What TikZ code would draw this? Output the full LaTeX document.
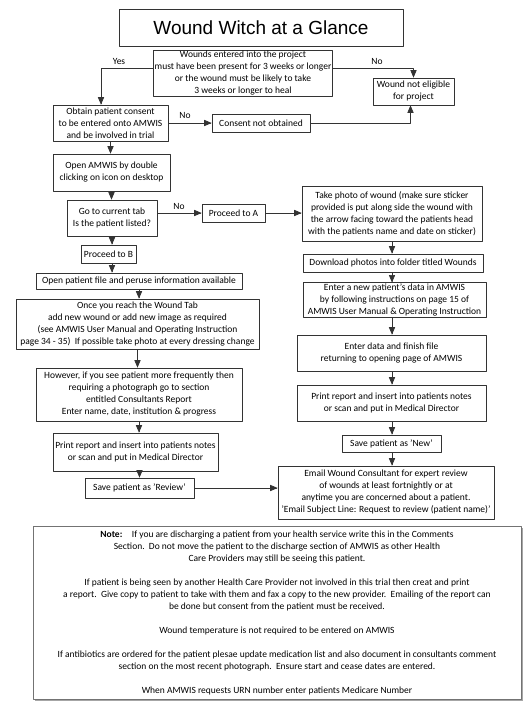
\documentclass[tikz,border=0pt]{standalone}
\usepackage{fontspec}
\setmainfont{Carlito}
\newfontfamily\titlefont{Liberation Sans}
\usetikzlibrary{arrows,shadows}

\tikzset{
  box/.style={draw=black!80, line width=0.7pt, align=center, inner sep=1pt,
    font=\fontsize{9.5}{12}\selectfont},
  lbl/.style={inner sep=0pt, font=\fontsize{9.5}{12}\selectfont},
  link/.style={draw=black!80, line width=0.7pt, ->}
}

\begin{document}
\begin{tikzpicture}[line cap=round,line join=round,>=triangle 45,x=1pt,y=-1pt]
\useasboundingbox (0,0) rectangle (531,709);
\node[box, minimum width=284pt, minimum height=37pt, font=\titlefont\fontsize{19}{21}\selectfont] (title) at (261,27.5) {Wound Witch at a Glance};
\node[box, minimum width=178pt, minimum height=46pt] (elig) at (243,73) {Wounds entered into the project\\must have been present for 3 weeks or longer\\or the wound must be likely to take\\3 weeks or longer to heal};
\node[box, minimum width=81pt, minimum height=27pt] (noelig) at (413.5,91.5) {Wound not eligible\\for project};
\node[box, minimum width=115pt, minimum height=36pt] (consent) at (110.5,123) {Obtain patient consent\\to be entered onto AMWIS\\and be involved in trial};
\node[box, minimum width=98pt, minimum height=18pt] (noconsent) at (261,123) {Consent not obtained};
\node[box, minimum width=117pt, minimum height=37pt] (open) at (111.5,172.5) {Open AMWIS by double\\clicking on icon on desktop};
\node[box, minimum width=90pt, minimum height=36pt] (listed) at (112,218) {Go to current tab\\Is the patient listed?};
\node[box, minimum width=63pt, minimum height=18pt] (procA) at (233.5,213) {Proceed to A};
\node[box, minimum width=55pt, minimum height=18pt] (procB) at (108.5,254) {Proceed to B};
\node[box, minimum width=206pt, minimum height=16pt] (file) at (139,281) {Open patient file and peruse information available};
\node[box, minimum width=243pt, minimum height=50pt] (tab) at (137.5,324) {Once you reach the Wound Tab\\add new wound or add new image as required\\(see AMWIS User Manual and Operating Instruction\\page 34 - 35)\ \ If possible take photo at every dressing change};
\node[box, minimum width=206pt, minimum height=53pt] (however) at (139,394.5) {However, if you see patient more frequently then\\requiring a photograph go to section\\entitled Consultants Report\\Enter name, date, institution \& progress};
\node[box, minimum width=165pt, minimum height=38pt] (printL) at (135.5,452) {Print report and insert into patients notes\\or scan and put in Medical Director};
\node[box, minimum width=109pt, minimum height=20pt] (review) at (139.5,488) {Save patient as 'Review'};
\node[box, minimum width=180pt, minimum height=55pt] (photo) at (392,213.5) {Take photo of wound (make sure sticker\\provided is put along side the wound with\\the arrow facing toward the patients head\\with the patients name and date on sticker)};
\node[box, minimum width=180pt, minimum height=18pt] (download) at (393,263) {Download photos into folder titled Wounds};
\node[box, minimum width=183pt, minimum height=30pt] (newpat) at (394.5,300) {Enter a new patient's data in AMWIS\\by following instructions on page 15 of\\AMWIS User Manual \& Operating Instruction};
\node[box, minimum width=189pt, minimum height=36pt] (enterdata) at (391.5,353) {Enter data and finish file\\returning to opening page of AMWIS};
\node[box, minimum width=189pt, minimum height=36pt] (printR) at (391.5,403) {Print report and insert into patients notes\\or scan and put in Medical Director};
\node[box, minimum width=99pt, minimum height=17pt] (new) at (391.5,443.5) {Save patient as 'New'};
\node[box, minimum width=216pt, minimum height=53pt] (email) at (386,492.5) {Email Wound Consultant for expert review\\of wounds at least fortnightly or at\\anytime you are concerned about a patient.\\'Email Subject Line: Request to review (patient name)'};
\node[box, draw=black!55, fill=white, minimum width=488pt, minimum height=173pt,
  drop shadow={opacity=1, fill=black!35, shadow xshift=2pt, shadow yshift=-2pt}] (note) at (277,612.5)
  {\textbf{Note:}\quad If you are discharging a patient from your health service write this in the Comments\\Section.\ \ Do not move the patient to the discharge section of AMWIS as other Health\\Care Providers may still be seeing this patient.\\[12pt]If patient is being seen by another Health Care Provider not involved in this trial then creat and print\\a report.\ \ Give copy to patient to take with them and fax a copy to the new provider.\ \ Emailing of the report can\\be done but consent from the patient must be received.\\[12pt]Wound temperature is not required to be entered on AMWIS\\[12pt]If antibiotics are ordered for the patient plesae update medication list and also document in consultants comment\\section on the most recent photograph.\ \ Ensure start and cease dates are entered.\\[12pt]When AMWIS requests URN number enter patients Medicare Number};
\node[lbl] (yes) at (119,61) {Yes};
\node[lbl] (no1) at (377,61) {No};
\node[lbl] (no2) at (185,115) {No};
\node[lbl] (no3) at (179,206) {No};
\draw[link] ([yshift=5pt]elig.west) -| ([xshift=-9.5pt]consent.north);
\draw[link] ([yshift=5pt]elig.east) -| (noelig.north);
\draw[link] (consent.east) -- (noconsent.west);
\draw[link] (noconsent.east) -| ([xshift=-3pt]noelig.south);
\draw[link] (consent.south) -- (consent.south |- open.north);
\draw[link] (open.south) -- (open.south |- listed.north);
\draw[link] (listed.east |- procA.west) -- (procA.west);
\draw[link] (procA.east) -- (procA.east -| photo.west);
\draw[link] (listed.south) -- (listed.south |- procB.north);
\draw[link] (procB.south -| listed.south) -- (listed.south |- file.north);
\draw[link] (file.south) -- (file.south |- tab.north);
\draw[link] (tab.south) -- (tab.south |- however.north);
\draw[link] (however.south) -- (however.south |- printL.north);
\draw[link] (printL.south -| review.north) -- (review.north);
\draw[link] (review.east) -- (review.east -| email.west);
\draw[link] (photo.south) -- (photo.south |- download.north);
\draw[link] (download.south -| photo.south) -- (photo.south |- newpat.north);
\draw[link] (newpat.south -| photo.south) -- (photo.south |- enterdata.north);
\draw[link] (enterdata.south -| photo.south) -- (photo.south |- printR.north);
\draw[link] (printR.south -| photo.south) -- (photo.south |- new.north);
\draw[link] (new.south -| photo.south) -- (photo.south |- email.north);
\end{tikzpicture}
\end{document}
